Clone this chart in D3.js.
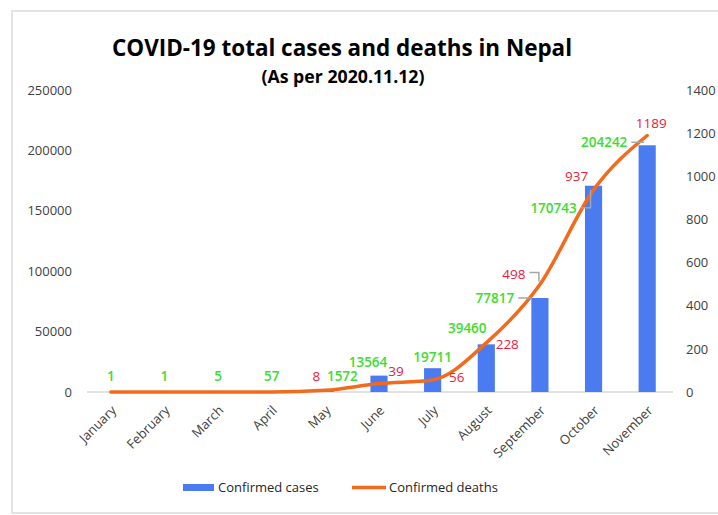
<!DOCTYPE html>
<html>
<head>
<meta charset="utf-8">
<script src="https://cdn.jsdelivr.net/npm/d3@7"></script>
<style>
  body { margin: 0; background: #fff; }
  text { font-family: "Open Sans", "Noto Sans", sans-serif; }
</style>
</head>
<body>
<div id="chart"></div>
<script>
// datos
const months = ["January", "February", "March", "April", "May", "June", "July",
                "August", "September", "October", "November"];
const cases = [1, 1, 5, 57, 1572, 13564, 19711, 39460, 77817, 170743, 204242];
const deaths = [0, 0, 0, 0, 8, 39, 56, 228, 498, 937, 1189];
const leftTicks = [0, 50000, 100000, 150000, 200000, 250000];
const rightTicks = [0, 200, 400, 600, 800, 1000, 1200, 1400];

// posicion de etiquetas (dx, dy respecto al punto)
const caseLabelPos = [[0,-11],[0,-11],[0,-11],[0,-11],[17,-9],[-11,-9],[0,-6],[-19,-11],[-45,5],[-40,27],[-43,2]];
const deathLabelPos = [null,null,null,null,[-9,-9],[17,-8],[24,2],[21,6],[-26,-6],[-17,-9],[4,-8]];

const width = 718, height = 515;
const svg = d3.select("#chart").append("svg")
    .attr("width", width)
    .attr("height", height);

svg.append("rect")
    .attr("x", 12).attr("y", 11)
    .attr("width", 720).attr("height", 502)
    .attr("fill", "#fff")
    .attr("stroke", "#e3e3e3")
    .attr("stroke-width", 2);

const x = d3.scaleBand()
    .domain(months)
    .range([84, 674])
    .paddingInner(0.68)
    .paddingOuter(0.34);

const yL = d3.scaleLinear().domain([0, 250000]).range([392, 90]);
const yR = d3.scaleLinear().domain([0, 1400]).range([392, 90]);
const cx = d => x(d) + x.bandwidth() / 2;

// ejes
const axL = svg.append("g")
    .attr("transform", "translate(76,0)")
    .call(d3.axisLeft(yL).tickValues(leftTicks).tickSize(0).tickPadding(4).tickFormat(d3.format("d")));
const axR = svg.append("g")
    .attr("transform", "translate(682,0)")
    .call(d3.axisRight(yR).tickValues(rightTicks).tickSize(0).tickPadding(4).tickFormat(d3.format("d")));
[axL, axR].forEach(g => {
    g.select(".domain").remove();
    g.selectAll("text").attr("font-size", 13).attr("fill", "#404040")
        .style("font-family", "'Open Sans', sans-serif");
});

svg.append("line")
    .attr("x1", 87).attr("x2", 673)
    .attr("y1", yL(0)).attr("y2", yL(0))
    .attr("stroke", "#d9d9d9")
    .attr("stroke-width", 1.5);

// meses
svg.selectAll(".mes")
    .data(months)
    .enter()
    .append("text")
    .attr("class", "mes")
    .attr("transform", d => `translate(${cx(d) + 3},${yL(0) + 16}) rotate(-45)`)
    .attr("text-anchor", "end")
    .attr("dy", "0.35em")
    .attr("font-size", 13)
    .attr("fill", "#404040")
    .text(d => d);

// barras
svg.selectAll(".bar")
    .data(months)
    .enter()
    .append("rect")
    .attr("class", "bar")
    .attr("x", d => x(d))
    .attr("y", (d, i) => yL(cases[i]))
    .attr("width", x.bandwidth())
    .attr("height", (d, i) => yL(0) - yL(cases[i]))
    .attr("fill", "#4a7bf0");

// linea
const line = d3.line()
    .x((d, i) => cx(months[i]))
    .y(d => yR(d))
    .curve(d3.curveMonotoneX);

svg.append("path")
    .datum(deaths)
    .attr("d", line)
    .attr("fill", "none")
    .attr("stroke", "#f26b1d")
    .attr("stroke-width", 3.5)
    .attr("stroke-linecap", "round");

// etiquetas
function leader(tx, ty, px, py) {
    svg.append("path")
        .attr("d", `M${tx},${ty} H${px} V${py}`)
        .attr("fill", "none")
        .attr("stroke", "#a6a6a6")
        .attr("stroke-width", 1.5);
}

months.forEach((m, i) => {
    const p = caseLabelPos[i];
    const px = cx(m), py = yL(cases[i]);
    const t = svg.append("text")
        .attr("x", px + p[0])
        .attr("y", py + p[1])
        .attr("text-anchor", "middle")
        .attr("font-size", 13.5)
        .attr("font-weight", 600)
        .attr("fill", "#3ddc2f")
        .text(cases[i]);
    if (i >= 8) {
        const w = t.node().getComputedTextLength();
        const right = px + p[0] + w / 2 + 4;
        const cyT = py + p[1] - 5;
        const endX = i === 8 ? x(m) : px - 3;
        leader(right, cyT, endX, i === 9 ? py + 4 : cyT);
    }
});

months.forEach((m, i) => {
    const p = deathLabelPos[i];
    if (!p) return;
    const px = cx(m), py = yR(deaths[i]);
    const t = svg.append("text")
        .attr("x", px + p[0])
        .attr("y", py + p[1])
        .attr("text-anchor", "middle")
        .attr("font-size", 13.5)
        .attr("fill", "#e8213f")
        .text(deaths[i]);
    if (i === 8) {
        const w = t.node().getComputedTextLength();
        const right = px + p[0] + w / 2 + 4;
        leader(right, py + p[1] - 6, px - 1, py - 3);
    }
});

// titulo
svg.append("text")
    .attr("x", 342).attr("y", 56)
    .attr("text-anchor", "middle")
    .attr("font-size", 24)
    .attr("font-weight", 700)
    .attr("textLength", 460)
    .attr("lengthAdjust", "spacingAndGlyphs")
    .attr("fill", "#000")
    .text("COVID-19 total cases and deaths in Nepal");

svg.append("text")
    .attr("x", 343).attr("y", 83)
    .attr("text-anchor", "middle")
    .attr("font-size", 17)
    .attr("font-weight", 700)
    .attr("textLength", 163)
    .attr("lengthAdjust", "spacingAndGlyphs")
    .attr("fill", "#000")
    .text("(As per 2020.11.12)");

// leyenda
svg.append("rect")
    .attr("x", 183).attr("y", 484)
    .attr("width", 31).attr("height", 7)
    .attr("fill", "#4a7bf0");
svg.append("text")
    .attr("x", 218).attr("y", 492)
    .attr("font-size", 13)
    .attr("fill", "#262626")
    .text("Confirmed cases");
svg.append("line")
    .attr("x1", 352).attr("x2", 386)
    .attr("y1", 487.5).attr("y2", 487.5)
    .attr("stroke", "#f26b1d")
    .attr("stroke-width", 3.5);
svg.append("text")
    .attr("x", 389).attr("y", 492)
    .attr("font-size", 13)
    .attr("fill", "#262626")
    .text("Confirmed deaths");
</script>
</body>
</html>
